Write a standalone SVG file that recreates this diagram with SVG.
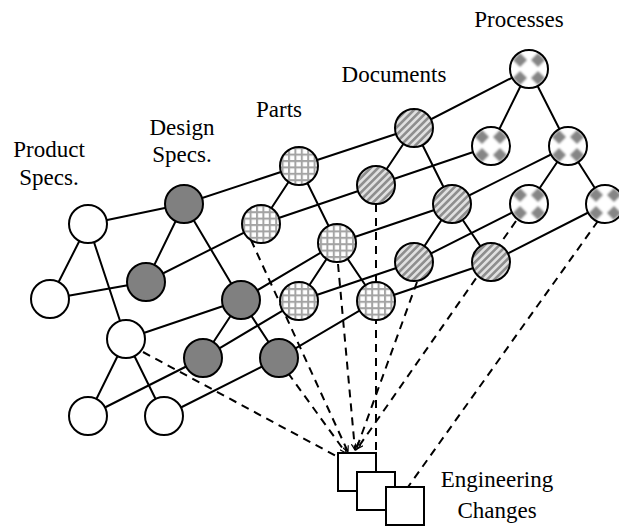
<svg xmlns="http://www.w3.org/2000/svg" width="619" height="527" viewBox="0 0 619 527">
<style>
.lbl{font-family:"Liberation Serif","Times New Roman","DejaVu Serif",serif;font-size:23px;fill:#000}
.n{stroke:#000;stroke-width:2}
.e{stroke:#000;stroke-width:2;fill:none}
.d{stroke:#000;stroke-width:2;fill:none;stroke-dasharray:8 6}
.box{fill:#fff;stroke:#000;stroke-width:2}
</style>
<defs>
<filter id="soft" x="0" y="0" width="1" height="1">
<feGaussianBlur stdDeviation="0.9"/>
</filter>
<pattern id="grid" patternUnits="userSpaceOnUse" width="6.4" height="6.4">
<rect width="6.4" height="6.4" fill="#fff"/>
<path d="M0,1H6.4M1,0V6.4" stroke="#a4a4a4" stroke-width="2"/>
</pattern>
<pattern id="stripe" patternUnits="userSpaceOnUse" width="5.2" height="5.2" patternTransform="rotate(45)">
<rect width="5.2" height="5.2" fill="#e0e0e0"/>
<rect width="2.6" height="5.2" fill="#8e8e8e"/>
</pattern>
<pattern id="proc" patternUnits="objectBoundingBox" width="1" height="1">
<rect width="38" height="38" fill="#fff"/>
<g fill="#858585" filter="url(#soft)">
<polygon points="10,3 17,10 10,17 3,10"/>
<polygon points="28,3 35,10 28,17 21,10"/>
<polygon points="10,21 17,28 10,35 3,28"/>
<polygon points="28,21 35,28 28,35 21,28"/>
</g>
</pattern>
<marker id="arr" viewBox="0 0 8 8" refX="7" refY="4" markerWidth="7" markerHeight="7" markerUnits="userSpaceOnUse" orient="auto">
<path d="M0,0.5 L7,4 L0,7.5" fill="none" stroke="#000" stroke-width="1.3"/>
</marker>
</defs>
<rect width="619" height="527" fill="#fff"/>

<g id="connectors">
<polyline class="e" points="88,224 184,204 299,166 414,128 529,69"/>
<polyline class="e" points="50,299 146,282 261,224 376,185 491,146"/>
<polyline class="e" points="126,339 241,300 337,243 452,204 568,146"/>
<polyline class="e" points="88,416 203,358 299,301 414,262 529,204"/>
<polyline class="e" points="164,416 279,358 376,301 491,262 605,204"/>
<path class="e" d="M88,224L50,299M88,224L126,339M126,339L88,416M126,339L164,416"/>
<path class="e" d="M184,204L146,282M184,204L241,300M241,300L203,358M241,300L279,358"/>
<path class="e" d="M299,166L261,224M299,166L337,243M337,243L299,301M337,243L376,301"/>
<path class="e" d="M414,128L376,185M414,128L452,204M452,204L414,262M452,204L491,262"/>
<path class="e" d="M529,69L491,146M529,69L568,146M568,146L529,204M568,146L605,204"/>
<line class="d" x1="143" y1="352" x2="338" y2="457"/>
<line class="d" x1="288" y1="373" x2="346" y2="453" marker-end="url(#arr)"/>
<line class="d" x1="251" y1="240" x2="348" y2="452" marker-end="url(#arr)"/>
<line class="d" x1="338" y1="264" x2="355" y2="450" marker-end="url(#arr)"/>
<line class="d" x1="376" y1="204" x2="376" y2="453"/>
<line class="d" x1="417" y1="282" x2="356" y2="450" marker-end="url(#arr)"/>
<line class="d" x1="516" y1="221" x2="357" y2="449" marker-end="url(#arr)"/>
<line class="d" x1="598" y1="221" x2="408" y2="487"/>
</g>

<g id="product-specs">
<circle class="n" cx="88" cy="224" r="19" fill="#fff"/>
<circle class="n" cx="50" cy="299" r="19" fill="#fff"/>
<circle class="n" cx="126" cy="339" r="19" fill="#fff"/>
<circle class="n" cx="88" cy="416" r="19" fill="#fff"/>
<circle class="n" cx="164" cy="416" r="19" fill="#fff"/>
<text class="lbl" x="49" y="157" text-anchor="middle">Product</text>
<text class="lbl" x="49" y="185" text-anchor="middle">Specs.</text>
</g>

<g id="design-specs">
<circle class="n" cx="184" cy="204" r="19" fill="#808080"/>
<circle class="n" cx="146" cy="282" r="19" fill="#808080"/>
<circle class="n" cx="241" cy="300" r="19" fill="#808080"/>
<circle class="n" cx="203" cy="358" r="19" fill="#808080"/>
<circle class="n" cx="279" cy="358" r="19" fill="#808080"/>
<text class="lbl" x="182" y="135" text-anchor="middle">Design</text>
<text class="lbl" x="182" y="162" text-anchor="middle">Specs.</text>
</g>

<g id="parts">
<circle class="n" cx="299" cy="166" r="19" fill="url(#grid)"/>
<circle class="n" cx="261" cy="224" r="19" fill="url(#grid)"/>
<circle class="n" cx="337" cy="243" r="19" fill="url(#grid)"/>
<circle class="n" cx="299" cy="301" r="19" fill="url(#grid)"/>
<circle class="n" cx="376" cy="301" r="19" fill="url(#grid)"/>
<text class="lbl" x="279" y="117" text-anchor="middle">Parts</text>
</g>

<g id="documents">
<circle class="n" cx="414" cy="128" r="19" fill="url(#stripe)"/>
<circle class="n" cx="376" cy="185" r="19" fill="url(#stripe)"/>
<circle class="n" cx="452" cy="204" r="19" fill="url(#stripe)"/>
<circle class="n" cx="414" cy="262" r="19" fill="url(#stripe)"/>
<circle class="n" cx="491" cy="262" r="19" fill="url(#stripe)"/>
<text class="lbl" x="394" y="82" text-anchor="middle">Documents</text>
</g>

<g id="processes">
<circle class="n" cx="529" cy="69" r="19" fill="url(#proc)"/>
<circle class="n" cx="491" cy="146" r="19" fill="url(#proc)"/>
<circle class="n" cx="568" cy="146" r="19" fill="url(#proc)"/>
<circle class="n" cx="529" cy="204" r="19" fill="url(#proc)"/>
<circle class="n" cx="605" cy="204" r="19" fill="url(#proc)"/>
<text class="lbl" x="519" y="27" text-anchor="middle">Processes</text>
</g>

<g id="engineering-changes">
<rect class="box" x="338" y="453" width="38" height="38"/>
<rect class="box" x="357" y="472" width="38" height="38"/>
<rect class="box" x="386" y="487" width="38" height="38"/>
<text class="lbl" x="497" y="487" text-anchor="middle">Engineering</text>
<text class="lbl" x="497" y="518" text-anchor="middle">Changes</text>
</g>
</svg>
